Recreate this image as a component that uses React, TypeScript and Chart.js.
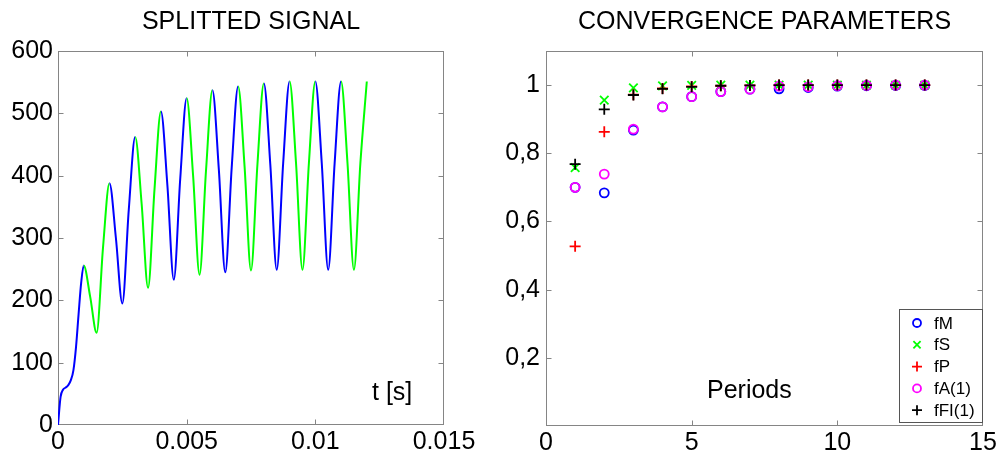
import React, { useEffect, useRef } from 'react';
import Chart from 'chart.js/auto';

const FONT = '"Liberation Sans", Arial, Helvetica, sans-serif';
const AXIS_COLOR = '#858585';
const BLUE = '#0000ff';
const GREEN = '#00ff00';
const RED = '#ff0000';
const MAGENTA = '#ff00ff';
const BLACK = '#000000';

// ---------- Left chart: splitted signal ----------
const PERIOD = 0.001;
const signalTime = [
  0, 0.0001, 0.0002, 0.0003, 0.0004, 0.0005, 0.0006, 0.0007, 0.0008, 0.0009,
  0.001, 0.00125, 0.0015, 0.00175, 0.002, 0.00225, 0.0025, 0.00275,
  0.003, 0.00325, 0.0035, 0.00375, 0.004, 0.00425, 0.0045, 0.00475,
  0.005, 0.00525, 0.0055, 0.00575, 0.006, 0.00625, 0.0065, 0.00675,
  0.007, 0.00725, 0.0075, 0.00775, 0.008, 0.00825, 0.0085, 0.00875,
  0.009, 0.00925, 0.0095, 0.00975, 0.01, 0.01025, 0.0105, 0.01075,
  0.011, 0.01125, 0.0115, 0.01175, 0.012,
];
const signalValue = [
  0, 45, 57, 60, 64, 72, 88, 125, 178, 228,
  256, 206, 148, 285, 388, 300, 195, 345,
  462, 355, 220, 378, 503, 385, 233, 395,
  524, 400, 241, 407, 537, 410, 245, 413,
  543, 415, 248, 418, 548, 418, 249, 420,
  551, 420, 249, 420, 551, 420, 249, 420,
  551, 420, 249, 420, 551,
];
const signalXTicks = [0, 0.005, 0.01, 0.015];
const signalXLabels = ['0', '0.005', '0.01', '0.015'];
const signalYTicks = [0, 100, 200, 300, 400, 500, 600];
const signalYLabels = ['0', '100', '200', '300', '400', '500', '600'];

// ---------- Right chart: convergence parameters ----------
const periods = [1, 2, 3, 4, 5, 6, 7, 8, 9, 10, 11, 12, 13];
const fM = [0.7, 0.684, 0.868, 0.936, 0.966, 0.981, 0.988, 0.989, 0.993, 0.997, 0.998, 0.999, 0.999];
const fS = [0.758, 0.956, 0.992, 0.998, 0.999, 1.0, 1.0, 1.0, 1.0, 1.0, 1.0, 1.0, 1.0];
const fP = [0.527, 0.863, 0.972, 0.99, 0.996, 0.998, 0.999, 1.0, 1.0, 1.0, 1.0, 1.0, 1.0];
const fA = [0.7, 0.739, 0.871, 0.936, 0.966, 0.981, 0.988, 0.997, 0.995, 0.998, 0.999, 1.0, 1.0];
const fFI = [0.768, 0.929, 0.971, 0.989, 0.995, 0.998, 0.999, 1.0, 1.0, 1.0, 1.0, 1.0, 1.0];
const seriesNames = ['fM', 'fS', 'fP', 'fA(1)', 'fFI(1)'];
const seriesColors = [BLUE, GREEN, RED, MAGENTA, BLACK];
const seriesMarkers = ['circle', 'crossRot', 'cross', 'circle', 'cross'];
const convXTicks = [0, 5, 10, 15];
const convXLabels = ['0', '5', '10', '15'];
const convYTicks = [0.2, 0.4, 0.6, 0.8, 1];
const convYLabels = ['0,2', '0,4', '0,6', '0,8', '1'];

function labelFor(ticksArr: number[], labels: string[]) {
  return (value: number) => {
    for (let i = 0; i < ticksArr.length; i++) {
      if (Math.abs(ticksArr[i] - value) < 1e-9) return labels[i];
    }
    return '';
  };
}

function drawMarker(ctx: CanvasRenderingContext2D, style: string, x: number, y: number, r: number) {
  ctx.beginPath();
  if (style === 'circle') {
    ctx.arc(x, y, r, 0, Math.PI * 2);
  } else if (style === 'cross') {
    ctx.moveTo(x - r, y); ctx.lineTo(x + r, y);
    ctx.moveTo(x, y - r); ctx.lineTo(x, y + r);
  } else {
    const d = r * 0.72;
    ctx.moveTo(x - d, y - d); ctx.lineTo(x + d, y + d);
    ctx.moveTo(x + d, y - d); ctx.lineTo(x - d, y + d);
  }
  ctx.stroke();
}

function framePlugin(title: string, inner: { text: string; dx: number; dy: number; fromRight: boolean }, legend: boolean) {
  return {
    id: 'frame',
    beforeDatasetsDraw(chart: any) {
      const { ctx, chartArea: a, scales } = chart;
      const xs = scales.x;
      const ys = scales.y;
      const L = Math.round(a.left) + 0.5;
      const R = Math.round(a.right) - 0.5;
      const T = Math.round(a.top) + 0.5;
      const B = Math.round(a.bottom) - 0.5;
      ctx.save();
      ctx.strokeStyle = AXIS_COLOR;
      ctx.lineWidth = 1;
      ctx.strokeRect(L, T, R - L, B - T);
      ctx.beginPath();
      xs.ticks.forEach((t: any) => {
        if (t.value <= xs.min || t.value >= xs.max) return;
        const px = Math.round(xs.getPixelForValue(t.value)) + 0.5;
        ctx.moveTo(px, B); ctx.lineTo(px, B - 5);
        ctx.moveTo(px, T); ctx.lineTo(px, T + 5);
      });
      ys.ticks.forEach((t: any) => {
        if (t.value <= ys.min || t.value >= ys.max) return;
        const py = Math.round(ys.getPixelForValue(t.value)) + 0.5;
        ctx.moveTo(L, py); ctx.lineTo(L + 5, py);
        ctx.moveTo(R, py); ctx.lineTo(R - 5, py);
      });
      ctx.stroke();
      ctx.restore();
    },
    afterDraw(chart: any) {
      const { ctx, chartArea: a } = chart;
      ctx.save();
      ctx.fillStyle = '#000';
      ctx.font = `25px ${FONT}`;
      ctx.textAlign = 'center';
      ctx.textBaseline = 'middle';
      ctx.fillText(title, (a.left + a.right) / 2, 22);
      ctx.textAlign = 'left';
      ctx.textBaseline = 'alphabetic';
      const ix = inner.fromRight ? a.right - inner.dx : a.left + inner.dx;
      ctx.fillText(inner.text, ix, a.bottom - inner.dy);
      if (legend) {
        const w = 83;
        const h = 113;
        const lx = Math.round(a.right - 1 - w) + 0.5;
        const ly = Math.round(a.bottom - 4 - h) + 0.5;
        ctx.fillStyle = '#fff';
        ctx.fillRect(lx, ly, w, h);
        ctx.strokeStyle = '#555';
        ctx.lineWidth = 1;
        ctx.strokeRect(lx, ly, w, h);
        ctx.font = `17px ${FONT}`;
        ctx.textBaseline = 'middle';
        seriesNames.forEach((name, i) => {
          const cy = ly + 13.5 + i * 21.8;
          ctx.strokeStyle = seriesColors[i];
          ctx.lineWidth = 1.8;
          drawMarker(ctx, seriesMarkers[i], lx + 17.5, cy, seriesMarkers[i] === 'circle' ? 4 : 5);
          ctx.fillStyle = '#000';
          ctx.fillText(name, lx + 34.5, cy + 1);
        });
      }
      ctx.restore();
    },
  };
}

function axisCommon(tickVals: number[], labels: string[], padding: number) {
  return {
    afterBuildTicks: (s: any) => {
      s.ticks = tickVals.map((v) => ({ value: v }));
    },
    ticks: {
      autoSkip: false,
      maxRotation: 0,
      minRotation: 0,
      padding,
      color: '#000',
      font: { family: FONT, size: 25 },
      callback: labelFor(tickVals, labels),
    },
    grid: { display: false, drawTicks: false },
    border: { display: false },
  };
}

function SignalChart() {
  const ref = useRef<HTMLCanvasElement>(null);
  useEffect(() => {
    const points = signalTime.map((t, i) => ({ x: t, y: signalValue[i] }));
    const chart = new Chart(ref.current as HTMLCanvasElement, {
      type: 'line',
      data: {
        datasets: [
          {
            data: points,
            borderWidth: 2,
            borderColor: BLUE,
            pointRadius: 0,
            cubicInterpolationMode: 'monotone',
            segment: {
              borderColor: (c: any) =>
                Math.floor(c.p0.parsed.x / PERIOD + 1e-6) % 2 === 0 ? BLUE : GREEN,
            },
          } as any,
        ],
      },
      options: {
        responsive: false,
        animation: false,
        devicePixelRatio: 1,
        layout: { padding: { left: 0, top: 51, right: 56, bottom: 0 } },
        plugins: { legend: { display: false }, tooltip: { enabled: false } },
        scales: {
          x: {
            type: 'linear',
            min: 0,
            max: 0.015,
            ...axisCommon(signalXTicks, signalXLabels, 2),
            afterFit: (s: any) => { s.height = 31; },
          } as any,
          y: {
            type: 'linear',
            min: 0,
            max: 600,
            ...axisCommon(signalYTicks, signalYLabels, 5),
            afterFit: (s: any) => { s.width = 58; },
          } as any,
        },
      },
      plugins: [framePlugin('SPLITTED SIGNAL', { text: 't [s]', dx: 72, dy: 25, fromRight: true }, false)],
    });
    return () => chart.destroy();
  }, []);
  return <canvas ref={ref} width={500} height={456} style={{ position: 'absolute', left: 0, top: 0 }} />;
}

function ConvergenceChart() {
  const ref = useRef<HTMLCanvasElement>(null);
  useEffect(() => {
    const series = [fM, fS, fP, fA, fFI];
    const datasets = series.map((vals, i) => ({
      label: seriesNames[i],
      data: periods.map((p, j) => ({ x: p, y: vals[j] })),
      showLine: false,
      pointStyle: seriesMarkers[i],
      pointRadius: seriesMarkers[i] === 'circle' ? 4.5 : seriesMarkers[i] === 'cross' ? 5.5 : 6,
      pointBorderWidth: 1.8,
      pointBorderColor: seriesColors[i],
      pointBackgroundColor: 'rgba(0,0,0,0)',
      order: series.length - i,
    }));
    const chart = new Chart(ref.current as HTMLCanvasElement, {
      type: 'scatter',
      data: { datasets: datasets as any },
      options: {
        responsive: false,
        animation: false,
        devicePixelRatio: 1,
        layout: { padding: { left: 0, top: 51, right: 17, bottom: 0 } },
        plugins: { legend: { display: false }, tooltip: { enabled: false } },
        scales: {
          x: {
            type: 'linear',
            min: 0,
            max: 15,
            ...axisCommon(convXTicks, convXLabels, 2),
            afterFit: (s: any) => { s.height = 30; },
          } as any,
          y: {
            type: 'linear',
            min: 0,
            max: 1.1,
            ...axisCommon(convYTicks, convYLabels, 6),
            afterFit: (s: any) => { s.width = 46; },
          } as any,
        },
      },
      plugins: [framePlugin('CONVERGENCE PARAMETERS', { text: 'Periods', dx: 161, dy: 28, fromRight: false }, true)],
    });
    return () => chart.destroy();
  }, []);
  return <canvas ref={ref} width={500} height={456} style={{ position: 'absolute', left: 500, top: 0 }} />;
}

export default function App() {
  return (
    <div style={{ position: 'absolute', left: 0, top: 0, width: 1000, height: 456, background: '#fff' }}>
      <SignalChart />
      <ConvergenceChart />
    </div>
  );
}
